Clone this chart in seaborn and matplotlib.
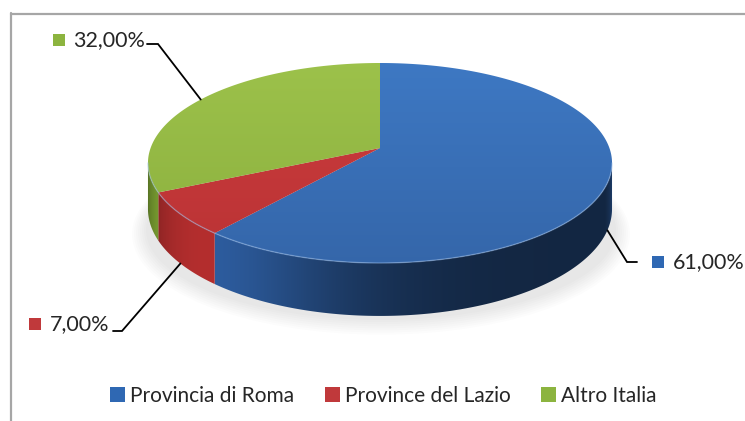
import numpy as np
import matplotlib
matplotlib.use("Agg")
import matplotlib.pyplot as plt
import seaborn as sns
from matplotlib.patches import Polygon, Rectangle, Ellipse
from matplotlib.lines import Line2D

# Origin of the people surveyed (share in %)
categories = ["Provincia di Roma", "Province del Lazio", "Altro Italia"]
shares = [61.0, 7.0, 32.0]

sns.set_theme(style="white")
plt.rcParams["font.family"] = ["Lato", "DejaVu Sans"]

top_light = sns.color_palette(["#3e79c4", "#cd3d3e", "#9dc24b"])
top_dark = sns.color_palette(["#3465a8", "#b93234", "#8aae3d"])
side_base = sns.color_palette(["#2d5c9e", "#b42e2e", "#93c03c"])
square_cols = sns.color_palette(["#2f68b3", "#c0393b", "#8cb43f"])

W, H = 745, 421
fig = plt.figure(figsize=(W / 100, H / 100), dpi=100)
ax = fig.add_axes([0, 0, 1, 1])

# perspective disk: apex, scales and rim depth (pixels)
CX, CY = 380.0, 148.0
A, B, P = 229.4, 75.55, -0.15
D0 = 45.0


def project(theta_deg):
    t = np.radians(theta_deg)
    u = np.sin(t)
    w = -np.cos(t)
    d = 1 + P * w
    return CX + A * u / d, (B * w + CY) / d, D0 / d


def light(theta):
    f = 0.42 + 0.58 * np.exp(-((theta - 222.0) / 35.0) ** 2)
    f = f + 0.22 * np.clip((112.0 - theta) / 11.0, 0, 1)
    return f


total = sum(shares)
bounds = np.concatenate([[0.0], np.cumsum(shares)]) / total * 360.0

# visible part of the rim (front half between the silhouette extremes)
vis_lo = np.degrees(np.arccos(P))
vis_hi = 360.0 - vis_lo

# soft shadow under the pie
for k in range(8):
    ax.add_patch(Ellipse((381, 230 + k * 0.6), 470 + k * 4, 180 + k * 3,
                         facecolor="black", edgecolor="none", alpha=0.012, zorder=1))

# column -> angle lookup along the front arc (x decreases as theta grows)
th_lut = np.linspace(vis_lo, vis_hi, 2000)
x_lut, _, _ = project(th_lut)
xs = np.linspace(140, 620, 960)
th_of_x = np.interp(xs, x_lut[::-1], th_lut[::-1])

# --- rim faces, shaded by angle ---
for i in range(len(shares)):
    lo, hi = max(bounds[i], vis_lo), min(bounds[i + 1], vis_hi)
    if hi <= lo:
        continue
    th = np.linspace(lo, hi, 200)
    px, py, dp = project(th)
    verts = list(zip(px, py)) + list(zip(px[::-1], (py + dp)[::-1]))
    face = Polygon(verts, closed=True, facecolor="none", edgecolor="none")
    ax.add_patch(face)
    cols = np.clip(np.array(side_base[i])[None, :] * light(th_of_x)[:, None], 0, 1)
    img = np.repeat(cols[None, :, :], 4, axis=0)
    im = ax.imshow(img, extent=(140, 620, 330, 150), origin="upper",
                   aspect="auto", zorder=2, interpolation="bilinear")
    im.set_clip_path(face)

# --- top faces with a soft vertical gradient ---
ys = np.linspace(55, 280, 200)
for i in range(len(shares)):
    th = np.linspace(bounds[i], bounds[i + 1], 300)
    px, py, _ = project(th)
    verts = [(CX, CY)] + list(zip(px, py))
    wedge = Polygon(verts, closed=True, facecolor="none", edgecolor="none")
    ax.add_patch(wedge)
    t = ((ys - ys.min()) / (ys.max() - ys.min()))[:, None]
    c1, c2 = np.array(top_light[i]), np.array(top_dark[i])
    grad = (c1[None, :] * (1 - t) + c2[None, :] * t)[:, None, :]
    grad = np.repeat(grad, 4, axis=1)
    im = ax.imshow(grad, extent=(140, 620, 280, 55), origin="upper",
                   aspect="auto", zorder=3, interpolation="bilinear")
    im.set_clip_path(wedge)

# light highlight along the front edge of the top
th = np.linspace(vis_lo, vis_hi, 300)
hx, hy, _ = project(th)
ax.plot(hx, hy, color="#9cc0ee", alpha=0.45, lw=1.0, zorder=4)

# --- value labels with leader lines ---
def fmt(v):
    return f"{v:.2f}".replace(".", ",") + "%"

label_layout = [
    dict(knee=(627, 262), end=(637, 262), sq=(652, 256), txt=(673, 262), ha="left"),
    dict(knee=(122, 331), end=(113, 331), sq=(29, 318), txt=(109, 324), ha="right"),
    dict(knee=(158, 44), end=(147, 44), sq=(53, 34), txt=(145, 40), ha="right"),
]
for i, lay in enumerate(label_layout):
    mid = (bounds[i] + bounds[i + 1]) / 2
    sx, sy, dp = project(mid)
    if np.cos(np.radians(mid)) < 0:
        sy += dp
    ax.plot([sx, lay["knee"][0], lay["end"][0]],
            [sy, lay["knee"][1], lay["end"][1]],
            color="black", lw=1.3, zorder=5, solid_joinstyle="miter")
    ax.add_patch(Rectangle(lay["sq"], 12, 12, facecolor=square_cols[i],
                           edgecolor="none", zorder=5))
    ax.text(lay["txt"][0], lay["txt"][1], fmt(shares[i]), ha=lay["ha"],
            va="center", fontsize=15.5, color="#262626", zorder=6)

# chart area frame
ax.add_line(Line2D([11, 11], [13, H], color="#a6a6a6", lw=1.6))
ax.add_line(Line2D([11, W], [13.5, 13.5], color="#a6a6a6", lw=1.6))

# legend
handles = [Rectangle((0, 0), 1, 1, facecolor=c, edgecolor="none") for c in square_cols]
ax.legend(handles, categories, loc="center", bbox_to_anchor=(383.5 / W, 1 - 396 / H),
          ncol=3, frameon=False, fontsize=15, handlelength=0.72, handleheight=0.72,
          handletextpad=0.25, columnspacing=1.45, labelcolor="#262626",
          borderpad=0, borderaxespad=0)

ax.set_xlim(0, W)
ax.set_ylim(H, 0)
ax.axis("off")
fig.savefig("out.png", dpi=100, facecolor="white")
